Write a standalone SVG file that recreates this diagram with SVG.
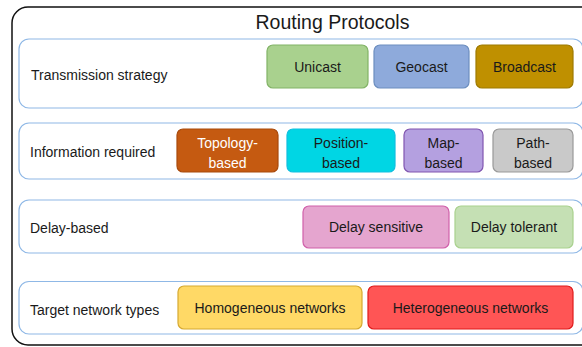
<svg xmlns="http://www.w3.org/2000/svg" width="582" height="347" viewBox="0 0 582 347">
<style>
text{font-family:"Liberation Sans",Arial,sans-serif;font-size:14px;fill:#1a1a1a}
.row{fill:#fff;stroke:#8fb8e6;stroke-width:1.2}
.n{stroke-width:1.2}
.c{text-anchor:middle}
</style>
<rect width="582" height="347" fill="#fff"/>
<g id="outer">
<rect x="12" y="7" width="600" height="338" rx="16" fill="#fff" stroke="#111" stroke-width="1.5"/>
<text x="332.5" y="29" class="c" style="font-size:19.5px">Routing Protocols</text>
</g>
<g id="row1">
<rect class="row" x="19" y="39" width="564" height="69" rx="10"/>
<text x="31" y="80">Transmission strategy</text>
</g>
<g id="row2">
<rect class="row" x="19" y="123" width="564" height="56" rx="10"/>
<text x="30" y="157">Information required</text>
</g>
<g id="row3">
<rect class="row" x="19" y="200" width="564" height="53" rx="10"/>
<text x="30" y="233">Delay-based</text>
</g>
<g id="row4">
<rect class="row" x="19" y="281.5" width="564" height="52.5" rx="10"/>
<text x="30" y="315">Target network types</text>
</g>
<g id="unicast"><rect class="n" x="267" y="45" width="101" height="43" rx="6" fill="#a9d18e" stroke="#82b366"/><text class="c" x="317.5" y="72">Unicast</text></g>
<g id="geocast"><rect class="n" x="374" y="45" width="95" height="43" rx="6" fill="#8eaadb" stroke="#6c8ebf"/><text class="c" x="421.5" y="72">Geocast</text></g>
<g id="broadcast"><rect class="n" x="476" y="45" width="97" height="43" rx="6" fill="#bf9000" stroke="#9e7a00"/><text class="c" x="524.5" y="72">Broadcast</text></g>
<g id="topology"><rect class="n" x="177" y="129" width="101" height="43" rx="6" fill="#c55a11" stroke="#a84a0c"/><text class="c" x="227.5" y="148" style="fill:#fff">Topology-</text><text class="c" x="227.5" y="168" style="fill:#fff">based</text></g>
<g id="position"><rect class="n" x="287" y="129" width="108" height="43" rx="6" fill="#00d6e4" stroke="#10bfe0"/><text class="c" x="341" y="148">Position-</text><text class="c" x="341" y="168">based</text></g>
<g id="map"><rect class="n" x="404" y="129" width="79" height="43" rx="6" fill="#b4a0e0" stroke="#8055b0"/><text class="c" x="443.5" y="148">Map-</text><text class="c" x="443.5" y="168">based</text></g>
<g id="path"><rect class="n" x="493" y="129" width="80" height="43" rx="6" fill="#c9c9c9" stroke="#999"/><text class="c" x="533" y="148">Path-</text><text class="c" x="533" y="168">based</text></g>
<g id="delaysensitive"><rect class="n" x="303" y="206" width="146" height="42" rx="6" fill="#e5a5cf" stroke="#d060aa"/><text class="c" x="376" y="232">Delay sensitive</text></g>
<g id="delaytolerant"><rect class="n" x="455" y="206" width="118" height="42" rx="6" fill="#c5e0b4" stroke="#a9d18e"/><text class="c" x="514" y="232">Delay tolerant</text></g>
<g id="homogeneous"><rect class="n" x="178" y="286" width="184" height="43" rx="6" fill="#ffd966" stroke="#d6a930"/><text class="c" x="270" y="313">Homogeneous networks</text></g>
<g id="heterogeneous"><rect class="n" x="368" y="286" width="205" height="43" rx="6" fill="#ff5555" stroke="#e01b1b"/><text class="c" x="470.5" y="313">Heterogeneous networks</text></g>
<g id="connectors"></g>
</svg>
